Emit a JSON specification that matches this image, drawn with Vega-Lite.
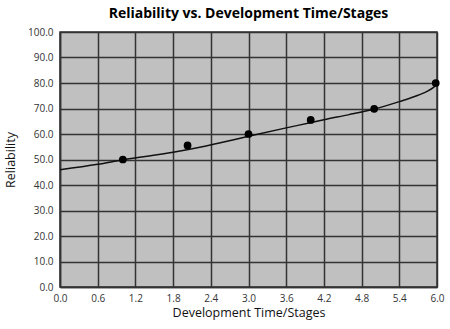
{
  "$schema": "https://vega.github.io/schema/vega-lite/v6.json",
  "autosize": {"type": "none"},
  "width": 377,
  "height": 255,
  "padding": {"left": 60, "top": 32, "right": 13, "bottom": 42},
  "background": "white",
  "title": {
    "text": "Reliability vs. Development Time/Stages",
    "font": "Open Sans",
    "fontSize": 14,
    "fontWeight": "bold",
    "color": "#000000",
    "anchor": "middle",
    "offset": 6
  },
  "config": {
    "view": {"fill": "#c0c0c0", "stroke": "#333333", "strokeWidth": 1.5},
    "axis": {
      "labelFont": "Open Sans",
      "labelFontSize": 10,
      "labelColor": "#333333",
      "labelOverlap": false,
      "titleFont": "Open Sans",
      "titleFontSize": 12.5,
      "titleFontWeight": "normal",
      "titleColor": "#111111",
      "grid": true,
      "gridColor": "#333333",
      "gridWidth": 1.5,
      "gridOpacity": 1,
      "domainColor": "#333333",
      "domainWidth": 1.5,
      "ticks": false
    }
  },
  "datasets": {
    "points": [
      {"x": 1.0, "y": 50.0},
      {"x": 2.03, "y": 55.5},
      {"x": 3.0, "y": 60.0},
      {"x": 3.99, "y": 65.5},
      {"x": 5.0, "y": 69.9},
      {"x": 5.98, "y": 80.0}
    ],
    "curve": [
      {"x": 0.0, "y": 46.0},
      {"x": 0.6, "y": 48.1},
      {"x": 1.0, "y": 49.9},
      {"x": 1.8, "y": 52.8},
      {"x": 2.0, "y": 53.7},
      {"x": 2.5, "y": 56.3},
      {"x": 3.0, "y": 59.1},
      {"x": 3.6, "y": 62.4},
      {"x": 4.0, "y": 64.5},
      {"x": 4.2, "y": 65.6},
      {"x": 4.6, "y": 67.6},
      {"x": 5.0, "y": 69.8},
      {"x": 5.4, "y": 72.7},
      {"x": 5.7, "y": 75.2},
      {"x": 5.85, "y": 76.8},
      {"x": 5.95, "y": 78.4},
      {"x": 6.0, "y": 79.5}
    ]
  },
  "encoding": {
    "x": {
      "field": "x", "type": "quantitative",
      "scale": {"domain": [0, 6], "nice": false, "zero": true},
      "axis": {"title": "Development Time/Stages", "values": [0, 0.6, 1.2, 1.8, 2.4, 3.0, 3.6, 4.2, 4.8, 5.4, 6.0], "format": ".1f", "labelPadding": 6, "titlePadding": 3, "labelFlush": false}
    },
    "y": {
      "field": "y", "type": "quantitative",
      "scale": {"domain": [0, 100], "nice": false},
      "axis": {"title": "Reliability", "values": [0, 10, 20, 30, 40, 50, 60, 70, 80, 90, 100], "format": ".1f", "labelPadding": 7, "titlePadding": 10, "labelFlush": false}
    }
  },
  "layer": [
    {
      "data": {"name": "curve"},
      "mark": {"type": "line", "color": "#111111", "strokeWidth": 1.5, "interpolate": "monotone"}
    },
    {
      "data": {"name": "points"},
      "mark": {"type": "point", "filled": true, "color": "#000000", "opacity": 1, "size": 60}
    }
  ]
}
